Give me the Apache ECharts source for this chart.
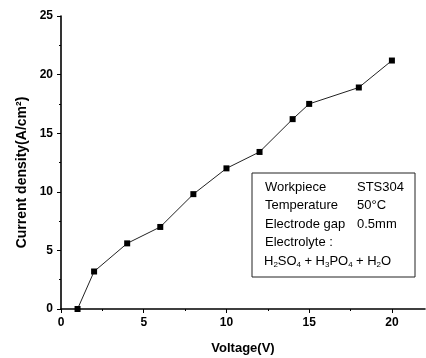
<!DOCTYPE html>
<html>
<head>
<meta charset="utf-8">
<script src="https://cdn.jsdelivr.net/npm/echarts@6/dist/echarts.min.js"></script>
<style>
  html, body { margin: 0; padding: 0; background: #fff; }
  #chart { width: 426px; height: 358px; }
</style>
</head>
<body>
<div id="chart"></div>
<script>
// Measured points: applied voltage (V) vs. current density (A/cm²)
const voltage = [1, 2, 4, 6, 8, 10, 12, 14, 15, 18, 20];
const currentDensity = [0, 3.2, 5.6, 7.0, 9.8, 12.0, 13.4, 16.2, 17.5, 18.9, 21.2];

// Axis ticks
const xMajorTicks = [0, 5, 10, 15, 20];
const xMinorTicks = [2.5, 7.5, 12.5, 17.5];

// Process conditions shown in the note box
const noteRows = [
  ['Workpiece', 'STS304'],
  ['Temperature', '50°C'],
  ['Electrode gap', '0.5mm'],
  ['Electrolyte :', '']
];
const electrolyteParts = [
  ['H', '2', 'SO', '4'], ['+ H', '3', 'PO', '4'], ['+ H', '2', 'O', '']
];

const FONT = '"Liberation Sans", Arial, sans-serif';
const chart = echarts.init(document.getElementById('chart'), null, { renderer: 'canvas' });

const labelStyle = { color: '#000', fontFamily: FONT, fontWeight: 'bold', fontSize: 12 };
const axisLine = { show: true, lineStyle: { color: '#000', width: 1.6 } };

// Note box graphics
const boxLeft = 252, boxTop = 173, boxW = 163, boxH = 104;
const graphics = [{
  type: 'rect',
  shape: { x: boxLeft, y: boxTop, width: boxW, height: boxH },
  style: { fill: '#fff', stroke: '#222', lineWidth: 1 },
  z: 10
}];
noteRows.forEach((row, i) => {
  const y = 187 + i * 18.5;
  graphics.push({
    type: 'text', x: 265, y: y, z: 11,
    style: { text: row[0], font: '13px ' + FONT, fill: '#000', verticalAlign: 'middle' }
  });
  if (row[1]) {
    graphics.push({
      type: 'text', x: 357, y: y, z: 11,
      style: { text: row[1], font: '13px ' + FONT, fill: '#000', verticalAlign: 'middle' }
    });
  }
});
// Electrolyte formula with subscripts
let formula = '';
electrolyteParts.forEach((p, i) => {
  formula += (i ? ' ' : '') + '{n|' + p[0] + '}{s|' + p[1] + '}{n|' + p[2] + '}' + (p[3] ? '{s|' + p[3] + '}' : '');
});
graphics.push({
  type: 'text', x: 264, y: 261, z: 11,
  style: {
    text: formula,
    verticalAlign: 'middle',
    rich: {
      n: { fontFamily: FONT, fontSize: 13, color: '#000', lineHeight: 16, verticalAlign: 'middle' },
      s: { fontFamily: FONT, fontSize: 8, color: '#000', lineHeight: 16, verticalAlign: 'bottom', padding: [0, 0, 0, 0] }
    }
  }
});

chart.setOption({
  animation: false,
  backgroundColor: '#fff',
  grid: { left: 61, right: 1, top: 16, bottom: 49, containLabel: false, outerBoundsMode: 'none' },
  xAxis: [{
    type: 'value', min: 0, max: 22,
    name: 'Voltage(V)', nameLocation: 'middle', nameGap: 33,
    nameTextStyle: { color: '#000', fontFamily: FONT, fontWeight: 'bold', fontSize: 13 },
    axisLine: axisLine,
    axisTick: { show: true, customValues: xMajorTicks, length: 4, lineStyle: { color: '#000', width: 1 } },
    axisLabel: Object.assign({ customValues: xMajorTicks, margin: 8 }, labelStyle),
    splitLine: { show: false }
  }, {
    type: 'value', min: 0, max: 22, position: 'bottom', offset: 0,
    axisLine: { show: false },
    axisTick: { show: true, customValues: xMinorTicks, length: 2, lineStyle: { color: '#000', width: 1 } },
    axisLabel: { show: false },
    splitLine: { show: false }
  }],
  yAxis: {
    type: 'value', min: 0, max: 25, interval: 5,
    name: 'Current density(A/cm²)', nameLocation: 'middle', nameGap: 32, nameRotate: 90,
    nameTextStyle: { color: '#000', fontFamily: FONT, fontWeight: 'bold', fontSize: 14, padding: [0, 20, 0, 0] },
    axisLine: axisLine,
    axisTick: { show: true, length: 4, lineStyle: { color: '#000', width: 1 } },
    minorTick: { show: true, splitNumber: 2, length: 2, lineStyle: { color: '#000', width: 1 } },
    axisLabel: Object.assign({ margin: 8 }, labelStyle),
    splitLine: { show: false }
  },
  series: [{
    type: 'line',
    xAxisIndex: 0,
    data: voltage.map((v, i) => [v, currentDensity[i]]),
    symbol: 'rect', symbolSize: 6,
    itemStyle: { color: '#000' },
    lineStyle: { color: '#222', width: 1 },
    clip: false
  }],
  graphic: graphics
});
</script>
</body>
</html>
